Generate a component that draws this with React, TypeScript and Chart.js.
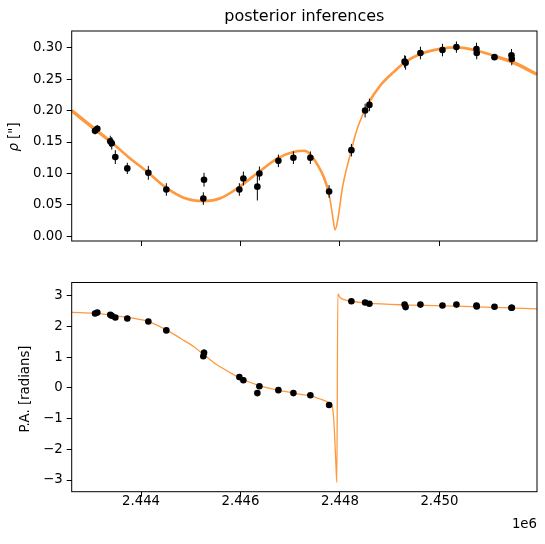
import React, { useEffect, useRef } from 'react';
import { Chart, registerables } from 'chart.js';

Chart.register(...registerables);

// ---- data ----
const obsDates = [
  2443075, 2443121, 2443382, 2443411, 2443483, 2443724, 2444147, 2444509,
  2445253, 2445267, 2445977, 2446058, 2446339, 2446380, 2446762, 2447064,
  2447405, 2447782, 2448230, 2448506, 2448592, 2449300, 2449320, 2449618,
  2450061, 2450342, 2450745, 2450750, 2451107, 2451449, 2451455,
];
const rhoObs = [
  0.168, 0.171, 0.151, 0.148, 0.126, 0.108, 0.101, 0.0745,
  0.060, 0.090, 0.0745, 0.092, 0.079, 0.100, 0.120, 0.125,
  0.125, 0.0713, 0.137, 0.200, 0.209, 0.278, 0.276, 0.2916,
  0.2963, 0.301, 0.298, 0.2916, 0.285, 0.288, 0.282,
];
const rhoErr = [
  0.006, 0.006, 0.009, 0.010, 0.011, 0.009, 0.011, 0.010,
  0.010, 0.011, 0.010, 0.011, 0.022, 0.011, 0.010, 0.010,
  0.010, 0.010, 0.010, 0.011, 0.010, 0.010, 0.011, 0.010,
  0.010, 0.009, 0.010, 0.010, 0.004, 0.010, 0.010,
];
const paObs = [
  2.42, 2.45, 2.38, 2.35, 2.29, 2.26, 2.16, 1.87,
  1.03, 1.14, 0.35, 0.25, -0.17, 0.055, -0.075, -0.17,
  -0.24, -0.56, 2.82, 2.78, 2.74, 2.71, 2.63, 2.71,
  2.68, 2.71, 2.68, 2.65, 2.64, 2.61, 2.61,
];
const paErr = [
  0.03, 0.03, 0.03, 0.03, 0.03, 0.03, 0.03, 0.03,
  0.05, 0.12, 0.03, 0.03, 0.03, 0.03, 0.03, 0.03,
  0.03, 0.03, 0.03, 0.03, 0.03, 0.03, 0.03, 0.03,
  0.03, 0.03, 0.03, 0.03, 0.03, 0.03, 0.03,
];

const curveDatesRho = [
  2442606, 2443075, 2443397, 2443732, 2444147, 2444509, 2444871, 2445261,
  2445609, 2445977, 2446347, 2446762, 2447063, 2447285, 2447405, 2447546,
  2447681, 2447782, 2447848, 2447902, 2447963, 2448049, 2448140, 2448230,
  2448290, 2448351, 2448450, 2448552, 2448822, 2449089, 2449304, 2449618,
  2450061, 2450342, 2450745, 2451107, 2451449, 2451962,
];
const curveRho = [
  0.200, 0.170, 0.150, 0.127, 0.101, 0.077, 0.061, 0.056,
  0.061, 0.0786, 0.101, 0.1246, 0.134, 0.136, 0.130, 0.114,
  0.093, 0.0666, 0.035, 0.010, 0.0295, 0.077, 0.110, 0.137,
  0.156, 0.172, 0.192, 0.209, 0.241, 0.262, 0.2767, 0.290,
  0.299, 0.3005, 0.2957, 0.2868, 0.2778, 0.2577,
];

const curveDatesPa = [
  2442606, 2443075, 2443463, 2444147, 2444509, 2444805, 2445072, 2445261,
  2445474, 2445744, 2445977, 2446347, 2446762, 2447063, 2447285, 2447405,
  2447615, 2447782, 2447848, 2447882, 2447916, 2447937, 2447957, 2448003,
  2448083, 2448230, 2448552, 2449304, 2450342, 2451107, 2451962,
];
const curvePa = [
  2.46, 2.43, 2.35, 2.16, 1.89, 1.60, 1.33, 1.08,
  0.81, 0.54, 0.33, 0.087, -0.075, -0.17, -0.23, -0.26,
  -0.37, -0.475, -0.61, -1.21, -2.39, -3.08, 3.07, 2.94,
  2.87, 2.82, 2.76, 2.70, 2.66, 2.62, 2.57,
];

const xTicks = [2444000, 2446000, 2448000, 2450000];
const rhoTicks = [0, 0.05, 0.1, 0.15, 0.2, 0.25, 0.3];
const paTicks = [-3, -2, -1, 0, 1, 2, 3];

const X_MIN = 2442606;
const X_MAX = 2451962;
const RHO_MIN = -0.0075;
const RHO_MAX = 0.3266;
const PA_MIN = -3.38;
const PA_MAX = 3.43;

const FONT = "'DejaVu Sans', sans-serif";
const CURVE_COLOR = 'rgba(255,127,14,0.8)';

const errorBarPlugin = {
  id: 'errorBars',
  afterDatasetsDraw(chart: any, _args: any, opts: any) {
    if (!opts || !opts.dates) return;
    const { ctx, scales } = chart;
    const xs = scales.x;
    const ys = scales.y;
    ctx.save();
    ctx.beginPath();
    ctx.rect(chart.chartArea.left, chart.chartArea.top, chart.chartArea.width, chart.chartArea.height);
    ctx.clip();
    ctx.strokeStyle = '#000';
    ctx.lineWidth = 1;
    for (let i = 0; i < opts.dates.length; i++) {
      const x = xs.getPixelForValue(opts.dates[i]);
      const y1 = ys.getPixelForValue(opts.values[i] - opts.errors[i]);
      const y2 = ys.getPixelForValue(opts.values[i] + opts.errors[i]);
      ctx.beginPath();
      ctx.moveTo(x, y1);
      ctx.lineTo(x, y2);
      ctx.stroke();
    }
    ctx.restore();
  },
};

const decorPlugin = {
  id: 'decor',
  afterDraw(chart: any, _args: any, opts: any) {
    const { ctx, chartArea } = chart;
    ctx.save();
    // frame
    ctx.strokeStyle = '#000';
    ctx.lineWidth = 1;
    ctx.strokeRect(chartArea.left, chartArea.top, chartArea.right - chartArea.left, chartArea.bottom - chartArea.top);
    ctx.fillStyle = '#000';
    // title
    if (opts.title) {
      ctx.font = `16px ${FONT}`;
      ctx.textAlign = 'center';
      ctx.textBaseline = 'alphabetic';
      ctx.fillText(opts.title, (chartArea.left + chartArea.right) / 2, opts.titleY);
    }
    // y label (rotated)
    if (opts.ylabel) {
      ctx.translate(opts.ylabelX, opts.ylabelY);
      ctx.rotate(-Math.PI / 2);
      ctx.textBaseline = 'middle';
      ctx.textAlign = 'left';
      const parts: Array<[string, string]> = opts.ylabel;
      let total = 0;
      const widths: number[] = [];
      for (const [txt, style] of parts) {
        ctx.font = `${style} 13.3px ${FONT}`;
        const w = ctx.measureText(txt).width;
        widths.push(w);
        total += w;
      }
      let x = -total / 2;
      parts.forEach(([txt, style], i) => {
        ctx.font = `${style} 13.3px ${FONT}`;
        ctx.fillText(txt, x, 0);
        x += widths[i];
      });
      ctx.setTransform(1, 0, 0, 1, 0, 0);
    }
    if (opts.offsetText) {
      ctx.font = `13.3px ${FONT}`;
      ctx.textAlign = 'right';
      ctx.textBaseline = 'alphabetic';
      ctx.fillText(opts.offsetText, chartArea.right, opts.offsetY);
    }
    ctx.restore();
  },
};

function fmtMinus(v: number) {
  return v < 0 ? '\u2212' + Math.abs(v) : String(v);
}

function makeConfig(kind: 'rho' | 'pa'): any {
  const isRho = kind === 'rho';
  const vals = isRho ? rhoObs : paObs;
  const errs = isRho ? rhoErr : paErr;
  const cDates = isRho ? curveDatesRho : curveDatesPa;
  const cVals = isRho ? curveRho : curvePa;
  return {
    type: 'scatter',
    data: {
      datasets: [
        {
          label: 'obs',
          data: obsDates.map((d, i) => ({ x: d, y: vals[i] })),
          pointRadius: 3.3,
          pointBackgroundColor: '#000',
          pointBorderWidth: 0,
          showLine: false,
        },
        {
          label: 'model',
          data: cDates.map((d, i) => ({ x: d, y: cVals[i] })),
          showLine: true,
          pointRadius: 0,
          borderColor: CURVE_COLOR,
          borderWidth: isRho ? 2.6 : 1.3,
          cubicInterpolationMode: 'monotone',
          segment: isRho
            ? {
                borderWidth: (c: any) => {
                  const x = c.p0.parsed.x;
                  if (x > 2447700 && x < 2448500) return 1.6;
                  if (x > 2451000 || x < 2443100) return 3.4;
                  return 2.6;
                },
              }
            : undefined,
        },
      ],
    },
    options: {
      animation: false,
      responsive: false,
      maintainAspectRatio: false,
      devicePixelRatio: 1,
      layout: { padding: { left: 0, right: 8, top: isRho ? 31 : 20.5, bottom: 0 } },
      plugins: {
        legend: { display: false },
        tooltip: { enabled: false },
        title: { display: false },
        errorBars: { dates: obsDates, values: vals, errors: errs },
        decor: isRho
          ? { title: 'posterior inferences', titleY: 21, ylabel: [['ρ', 'italic'], [' ["]', 'normal']], ylabelX: 15, ylabelY: 137 }
          : { ylabel: [['P.A. [radians]', 'normal']], ylabelX: 26, ylabelY: 389 - 262, offsetText: '1e6', offsetY: 265.5 },
      },
      scales: {
        x: {
          type: 'linear',
          min: X_MIN,
          max: X_MAX,
          afterBuildTicks: (s: any) => {
            s.ticks = xTicks.map((v) => ({ value: v }));
          },
          afterFit: (s: any) => {
            s.height = isRho ? 21 : 52.3;
          },
          grid: { display: true, drawOnChartArea: false, drawTicks: true, tickLength: 5, color: '#000', lineWidth: 1 },
          border: { display: false },
          ticks: {
            color: '#000',
            font: { family: FONT, size: 13.3 },
            padding: -3,
            maxRotation: 0,
            autoSkip: false,
            callback: (v: number) => (isRho ? '' : (v / 1e6).toFixed(3)),
          },
        },
        y: {
          type: 'linear',
          min: isRho ? RHO_MIN : PA_MIN,
          max: isRho ? RHO_MAX : PA_MAX,
          afterBuildTicks: (s: any) => {
            s.ticks = (isRho ? rhoTicks : paTicks).map((v) => ({ value: v }));
          },
          afterFit: (s: any) => {
            s.width = 71.7;
          },
          grid: { display: true, drawOnChartArea: false, drawTicks: true, tickLength: 5, color: '#000', lineWidth: 1 },
          border: { display: false },
          ticks: {
            color: '#000',
            font: { family: FONT, size: 13.3 },
            padding: 4,
            autoSkip: false,
            callback: (v: number) => (isRho ? v.toFixed(2) : fmtMinus(v)),
          },
        },
      },
    },
    plugins: [errorBarPlugin, decorPlugin],
  };
}

function ChartCanvas({ kind, top, height }: { kind: 'rho' | 'pa'; top: number; height: number }) {
  const ref = useRef<HTMLCanvasElement | null>(null);
  useEffect(() => {
    if (!ref.current) return;
    const chart = new Chart(ref.current, makeConfig(kind));
    return () => chart.destroy();
  }, [kind]);
  return (
    <canvas
      ref={ref}
      width={545}
      height={height}
      style={{ position: 'absolute', left: 0, top, width: 545, height }}
    />
  );
}

export default function App() {
  useEffect(() => {
    document.body.style.margin = '0';
  }, []);
  return (
    <div style={{ position: 'relative', width: 545, height: 544, background: '#fff', overflow: 'hidden' }}>
      <ChartCanvas kind="rho" top={0} height={262} />
      <ChartCanvas kind="pa" top={262} height={282} />
    </div>
  );
}
